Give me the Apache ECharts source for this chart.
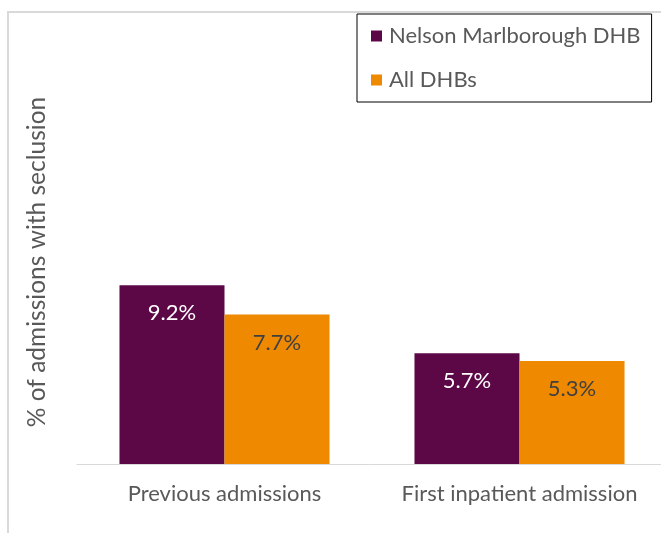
<!DOCTYPE html>
<html lang="en">
<head>
    <meta charset="UTF-8">
    <title>Seclusion by admission type</title>
    <script src="https://cdn.jsdelivr.net/npm/echarts@6/dist/echarts.min.js"></script>
    <style>
        html, body { margin: 0; padding: 0; background: #fff; }
    </style>
</head>
<body>
<div id="main" style="width: 661px;height:533px;"></div>

<script type="text/javascript">
    // data
    const categories = ['Previous admissions', 'First inpatient admission']
    const nelsonValues = [9.2, 5.7]
    const allDhbValues = [7.7, 5.3]
    const seriesNames = ['Nelson Marlborough DHB', 'All DHBs']
</script>

<script type="text/javascript">
    const myChart = echarts.init(document.getElementById('main'))
    const font = 'Lato, "Open Sans", sans-serif'
    const grey = '#595959'

    const option = {
        animation: false,
        textStyle: { fontFamily: font },
        // light frame around the chart area
        graphic: [
            { type: 'line', shape: { x1: 7, y1: 12, x2: 661, y2: 12 }, style: { stroke: '#d9d9d9', lineWidth: 2 } },
            { type: 'line', shape: { x1: 8, y1: 12, x2: 8, y2: 533 }, style: { stroke: '#d9d9d9', lineWidth: 2 } }
        ],
        legend: {
            orient: 'vertical',
            left: 357,
            top: 14,
            padding: [11, 11, 11, 14],
            itemGap: 22,
            icon: 'rect',
            itemWidth: 11,
            itemHeight: 11,
            borderColor: '#000',
            borderWidth: 1,
            backgroundColor: '#fff',
            textStyle: { fontFamily: font, fontSize: 22, color: grey, padding: [0, 0, 0, 2] },
            data: seriesNames
        },
        grid: { left: 77, top: 60, right: -6, bottom: 69, outerBoundsMode: 'none' },
        xAxis: {
            type: 'category',
            data: categories,
            axisLine: { lineStyle: { color: '#d9d9d9', width: 1 } },
            axisTick: { show: false },
            axisLabel: { interval: 0, fontFamily: font, fontSize: 22, color: grey, margin: 19 }
        },
        yAxis: {
            type: 'value',
            min: 0,
            max: 20.8,
            axisLine: { show: false },
            axisTick: { show: false },
            axisLabel: { show: false },
            splitLine: { show: false },
            name: '% of admissions with seclusion',
            nameLocation: 'middle',
            nameRotate: 90,
            nameGap: 27,
            nameTextStyle: { fontFamily: font, fontSize: 24.5, color: grey }
        },
        series: [{
            name: seriesNames[0],
            type: 'bar',
            data: nelsonValues,
            barGap: '0%',
            barCategoryGap: '28.8%',
            itemStyle: { color: '#5c0847' },
            label: {
                show: true,
                position: 'insideTop',
                distance: 17,
                formatter: p => p.value.toFixed(1) + '%',
                fontFamily: font,
                fontSize: 22,
                color: '#fff'
            }
        }, {
            name: seriesNames[1],
            type: 'bar',
            data: allDhbValues,
            barGap: '0%',
            barCategoryGap: '28.8%',
            itemStyle: { color: '#ee8900' },
            label: {
                show: true,
                position: 'insideTop',
                distance: 17,
                formatter: p => p.value.toFixed(1) + '%',
                fontFamily: font,
                fontSize: 22,
                color: '#404040'
            }
        }]
    }

    myChart.setOption(option)
</script>
</body>
</html>
